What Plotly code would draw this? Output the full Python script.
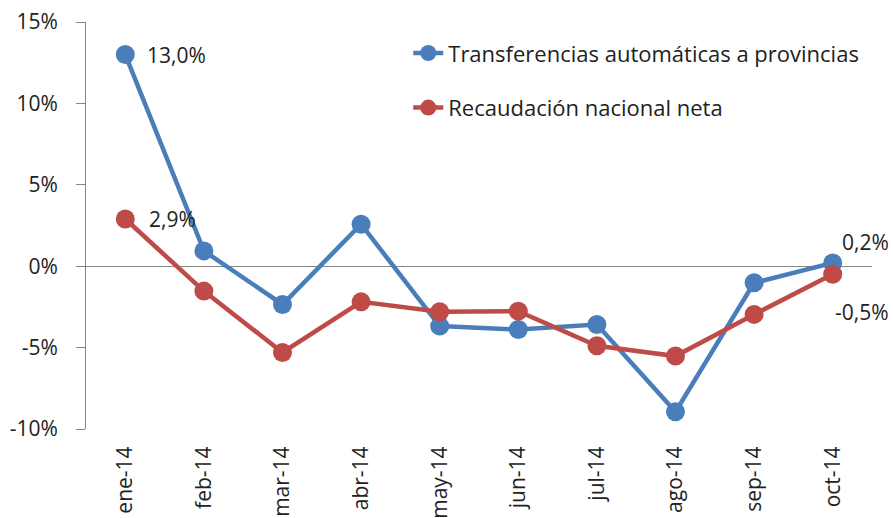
import plotly.graph_objects as go

categories = ["ene-14", "feb-14", "mar-14", "abr-14", "may-14", "jun-14",
              "jul-14", "ago-14", "sep-14", "oct-14"]
transferencias = [13.0, 0.94, -2.35, 2.58, -3.68, -3.89, -3.58, -8.94, -1.02, 0.2]
recaudacion = [2.9, -1.53, -5.3, -2.19, -2.8, -2.76, -4.89, -5.52, -2.96, -0.5]
name_t = "Transferencias automáticas a provincias"
name_r = "Recaudación nacional neta"
y_ticks = [-10, -5, 0, 5, 10, 15]

BLUE = "#4A7EBB"
RED = "#BE4B48"
FONT = "Open Sans"
FS = 21

fig = go.Figure()
fig.add_trace(go.Scatter(x=categories, y=transferencias, name=name_t, mode="lines+markers",
                         line=dict(color=BLUE, width=4.5), marker=dict(size=19, color=BLUE),
                         legendgroup="a"))
fig.add_trace(go.Scatter(x=categories, y=recaudacion, name=name_r, mode="lines+markers",
                         line=dict(color=RED, width=4.5), marker=dict(size=19, color=RED),
                         legendgroup="b"))

def fmt(v):
    return ("%.1f%%" % v).replace(".", ",")

anns = [
    (categories[0], transferencias[0], 20, 0),
    (categories[0], recaudacion[0], 22, 0),
    (categories[-1], transferencias[-1], 7, 21),
    (categories[-1], recaudacion[-1], 0, -38),
]
for x, y, xs, ys in anns:
    fig.add_annotation(x=x, y=y, text=fmt(y), showarrow=False, xanchor="left",
                       xshift=xs, yshift=ys, font=dict(family=FONT, size=FS, color="#222"))

fig.update_layout(
    width=893, height=518,
    margin=dict(l=86, r=21, t=22, b=89),
    plot_bgcolor="white", paper_bgcolor="white",
    font=dict(family=FONT, size=FS, color="#222"),
    showlegend=True,
    legend=dict(x=0.41, y=0.975, xanchor="left", yanchor="top", bgcolor="rgba(0,0,0,0)",
                font=dict(family=FONT, size=22, color="#222"), tracegroupgap=23),
    xaxis=dict(type="category", showline=False, ticks="outside", ticklen=8,
               tickcolor="rgba(0,0,0,0)", showgrid=False, automargin=False,
               tickangle=-90, tickfont=dict(family=FONT, size=FS), range=[-0.5, 9.5],
               zeroline=False),
    yaxis=dict(range=[-10, 15], tickvals=y_ticks, ticktext=[f"{v}%" for v in y_ticks],
               showgrid=False, showline=True, linecolor="#868686", linewidth=1,
               ticks="outside", ticklen=9, tickcolor="#868686", automargin=False,
               ticklabelstandoff=14,
               zeroline=True, zerolinecolor="#868686", zerolinewidth=1,
               tickfont=dict(family=FONT, size=FS)),
)
fig.write_html("out.html", config={"displayModeBar": False},
               post_script="document.body.style.margin='0';")
